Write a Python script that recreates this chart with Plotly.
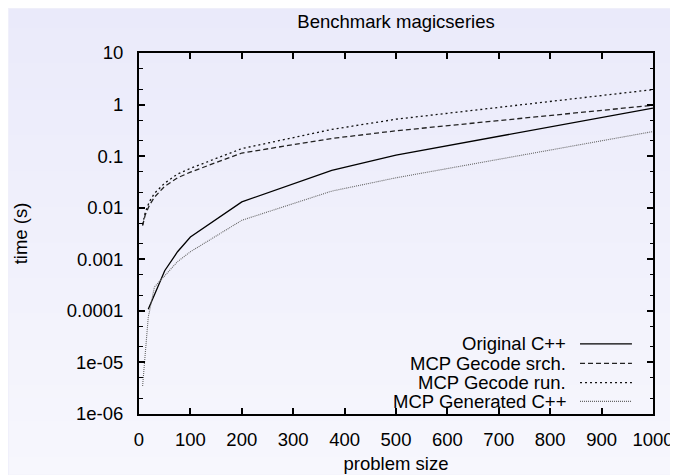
import base64
import struct
import zlib

import plotly.graph_objects as go

# ---- data ----
sizes_orig = [18, 50, 75, 100, 200, 375, 500, 1000]
time_orig = [1.07e-4, 6.0e-4, 1.4e-3, 2.7e-3, 0.013, 0.053, 0.105, 0.85]

sizes_gecode = [7, 12, 20, 30, 50, 75, 100, 200, 375, 500, 1000]
time_srch = [0.0045, 0.0072, 0.011, 0.016, 0.026, 0.038, 0.049, 0.115, 0.22, 0.31, 0.97]
time_run = [0.0047, 0.008, 0.013, 0.019, 0.030, 0.045, 0.058, 0.14, 0.33, 0.52, 1.95]

sizes_gen = [7, 12, 18, 30, 50, 75, 100, 200, 375, 500, 1000]
time_gen = [3.5e-6, 1.4e-5, 7.5e-5, 2.9e-4, 4.8e-4, 9.0e-4, 1.4e-3, 5.7e-3, 0.021, 0.038, 0.30]

series_names = ["Original C++", "MCP Gecode srch.", "MCP Gecode run.", "MCP Generated C++"]
y_tickvals = [1e-6, 1e-5, 1e-4, 1e-3, 1e-2, 1e-1, 1, 10]
y_ticktext = ["1e-06", "1e-05", "0.0001", "0.001", "0.01", "0.1", "1", "10"]
x_tickvals = [0, 100, 200, 300, 400, 500, 600, 700, 800, 900, 1000]

styles = [
    dict(color="#000000", width=1.3, dash="solid"),
    dict(color="#222222", width=1.3, dash="5px,3px"),
    dict(color="#111111", width=1.3, dash="2px,3px"),
    dict(color="#666666", width=1.1, dash="1px,1px"),
]
xs = [sizes_orig, sizes_gecode, sizes_gecode, sizes_gen]
ys = [time_orig, time_srch, time_run, time_gen]

FONT = "Liberation Sans, Arial, Helvetica, sans-serif"
FS = 18.5
W, H = 678, 475
ML, MR, MT, MB = 131, 29, 45, 62
PW, PH = W - ML - MR, H - MT - MB


# vertical lavender gradient for the background (as gnuplot's page)
def gradient_png(h, top, bottom):
    raw = b""
    for i in range(h):
        t = i / (h - 1)
        px = bytes(round(a + (b - a) * t) for a, b in zip(top, bottom))
        raw += b"\x00" + px
    def chunk(tag, data):
        c = struct.pack(">I", len(data)) + tag + data
        return c + struct.pack(">I", zlib.crc32(tag + data) & 0xFFFFFFFF)
    png = b"\x89PNG\r\n\x1a\n"
    png += chunk(b"IHDR", struct.pack(">IIBBBBB", 1, h, 8, 2, 0, 0, 0))
    png += chunk(b"IDAT", zlib.compress(raw))
    png += chunk(b"IEND", b"")
    return "data:image/png;base64," + base64.b64encode(png).decode()


bg_src = gradient_png(H, (234, 234, 250), (247, 247, 253))

fig = go.Figure()
for name, x, y, st in zip(series_names, xs, ys, styles):
    fig.add_trace(go.Scatter(x=x, y=y, mode="lines", name=name, line=st, showlegend=False))

# gnuplot-style legend: text right-aligned, line sample on the right
row_y = [0.194, 0.140, 0.087, 0.035]
for name, st, ry in zip(series_names, styles, row_y):
    fig.add_annotation(x=0.834, y=ry, xref="paper", yref="paper", text=name,
                       showarrow=False, xanchor="right", yanchor="middle",
                       font=dict(family=FONT, size=FS, color="#000"))
    fig.add_shape(type="line", xref="paper", yref="paper", x0=0.858, x1=0.959,
                  y0=ry, y1=ry, line=st)

axis_common = dict(
    showline=True, linecolor="#000", linewidth=2, mirror="allticks",
    ticks="inside", ticklen=6, tickwidth=1.5, tickcolor="#000",
    showgrid=False, zeroline=False,
    tickfont=dict(family=FONT, size=FS, color="#000"),
)

fig.update_xaxes(range=[0, 1000], tickvals=x_tickvals, ticklabelstandoff=8,
                 title=dict(text="problem size", font=dict(family=FONT, size=FS, color="#000"), standoff=8),
                 **axis_common)
fig.update_yaxes(type="log", range=[-6, 1], tickvals=y_tickvals, ticktext=y_ticktext,
                 ticklabelstandoff=10,
                 title=dict(text="time (s)", font=dict(family=FONT, size=FS, color="#000"), standoff=34),
                 minor=dict(dtick="D2", ticks="inside", ticklen=3.5, tickwidth=1.2, tickcolor="#000", showgrid=False),
                 **axis_common)

fig.add_layout_image(source=bg_src, xref="paper", yref="paper",
                     x=-ML / PW, y=1 + MT / PH, sizex=W / PW, sizey=H / PH,
                     xanchor="left", yanchor="top", sizing="stretch", layer="below")

fig.update_layout(
    width=W, height=H,
    margin=dict(l=ML, r=MR, t=MT, b=MB),
    paper_bgcolor="#f0f0fb", plot_bgcolor="rgba(0,0,0,0)",
    title=dict(text="Benchmark magicseries", x=0.5, xref="paper", y=1 - 14 / H,
               yref="container", yanchor="middle", xanchor="center",
               font=dict(family=FONT, size=FS, color="#000")),
    font=dict(family=FONT, size=FS, color="#000"),
)

fig.write_html("out.html")
